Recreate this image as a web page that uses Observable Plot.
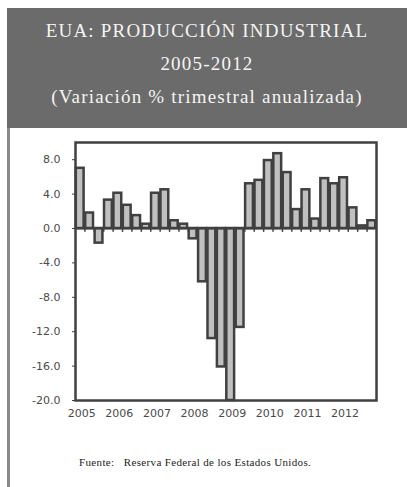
<!DOCTYPE html>
<html>
<head>
<meta charset="utf-8">
<script src="https://cdn.jsdelivr.net/npm/d3@7"></script>
<script src="https://cdn.jsdelivr.net/npm/@observablehq/plot@0.6"></script>
<style>
  html, body { margin: 0; padding: 0; background: #fff; }
  #page { position: relative; width: 407px; height: 487px; overflow: hidden; background: #fff; }
  #header { position: absolute; left: 7px; top: 8px; width: 400px; height: 120px; background: #6b6b6b;
            color: #f4f4f4; font-family: "Liberation Serif", "DejaVu Serif", serif; text-align: center; }
  #header div { position: absolute; left: 0; width: 400px; font-size: 19px; letter-spacing: 1.2px; }
  #border { position: absolute; left: 7px; top: 128px; width: 3px; height: 359px; background: #8a8a8a; }
  #chart { position: absolute; left: 0; top: 128px; }
  #source { position: absolute; left: 79px; top: 456px; font-family: "Liberation Serif", serif; font-size: 11px; letter-spacing: 0.35px; color: #222; white-space: pre; }
</style>
</head>
<body>
<div id="page">
  <div id="header">
    <div style="top:12px">EUA: PRODUCCIÓN INDUSTRIAL</div>
    <div style="top:45px">2005-2012</div>
    <div style="top:78px">(Variación % trimestral anualizada)</div>
  </div>
  <div id="border"></div>
  <div id="chart"></div>
  <div id="source">Fuente:   Reserva Federal de los Estados Unidos.</div>
</div>
<script>
const years = ["2005", "2006", "2007", "2008", "2009", "2010", "2011", "2012"];
const quarters = ["T1", "T2", "T3", "T4"];
const values = [
  7.0, 1.8, -1.7, 3.3,
  4.1, 2.7, 1.5, 0.5,
  4.1, 4.5, 0.9, 0.5,
  -1.2, -6.2, -12.8, -16.1,
  -20.0, -11.5, 5.2, 5.6,
  7.9, 8.7, 6.5, 2.2,
  4.5, 1.1, 5.8, 5.2,
  5.9, 2.4, 0.3, 0.9
];
const yTicks = [-20, -16, -12, -8, -4, 0, 4, 8];

const data = values.map((v, i) => ({
  year: years[Math.floor(i / quarters.length)],
  quarter: quarters[i % quarters.length],
  idx: i,
  value: v
}));
const yearTicks = years.map((y, k) => k * quarters.length + 0.5);
const edges = data.map(d => d.idx).filter(i => i > 0);

const dark = "#404040";
const chart = Plot.plot({
  width: 407,
  height: 300,
  marginLeft: 75,
  marginRight: 31,
  marginTop: 14,
  marginBottom: 28,
  style: { fontFamily: "'DejaVu Sans', sans-serif", fontSize: "11px", color: "#4a4a4a", background: "transparent" },
  x: { domain: [0, values.length], axis: null, label: null },
  y: { domain: [-20, 10], axis: null, label: null },
  marks: [
    Plot.rectY(data, { x1: "idx", x2: d => d.idx + 1, y: "value", fill: "#c0c0c0", stroke: dark, strokeWidth: 2.5, insetLeft: 0.8, insetRight: 0.8 }),
    Plot.ruleY([0], { stroke: dark, strokeWidth: 2 }),
    Plot.ruleX(edges, { x: d => d, y1: 0, y2: -0.45, stroke: dark, strokeWidth: 1.5 }),
    Plot.axisY(yTicks, { anchor: "left", label: null, tickSize: 3, tickPadding: 12, tickFormat: d => d.toFixed(1), stroke: dark, fill: "#4a4a4a" }),
    Plot.axisX(yearTicks, { anchor: "bottom", label: null, tickSize: 0, tickPadding: 9, tickFormat: (d, i) => years[i], dx: 1.5, fill: "#4a4a4a" }),
    Plot.frame({ stroke: dark, strokeWidth: 2.5 })
  ]
});
document.getElementById("chart").appendChild(chart);
</script>
</body>
</html>
